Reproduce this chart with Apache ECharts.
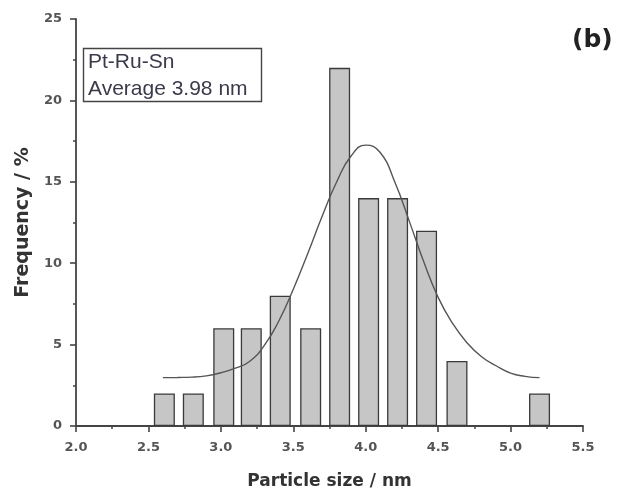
<!DOCTYPE html>
<html><head><meta charset="utf-8">
<script src="https://cdn.jsdelivr.net/npm/echarts@6/dist/echarts.min.js"></script>
<style>html,body{margin:0;padding:0;background:#fff}#c{width:617px;height:488px}</style>
</head><body><div id="c"></div>
<script>
const binCenters = [2.61, 2.81, 3.02, 3.21, 3.41, 3.62, 3.82, 4.02, 4.22, 4.42, 4.63, 5.20];
const frequencies = [2, 2, 6, 6, 8, 6, 22, 14, 14, 12, 4, 2];
const fitX = [2.6, 2.7, 2.8, 2.9, 3.0, 3.1, 3.2, 3.3, 3.4, 3.5, 3.6, 3.7, 3.8, 3.9, 4.0, 4.1, 4.2, 4.3, 4.4, 4.5, 4.6, 4.7, 4.8, 4.9, 5.0, 5.1, 5.2];
const fitY = [2.97, 2.98, 3.0, 3.08, 3.27, 3.55, 3.98, 4.95, 6.45, 8.4, 10.6, 12.9, 15.0, 16.6, 17.25, 16.8, 15.0, 12.6, 10.1, 7.9, 6.3, 5.1, 4.25, 3.7, 3.25, 3.05, 2.97];
const legendLines = ['Pt-Ru-Sn', 'Average 3.98 nm'];
const panelLabel = '(b)';
const xTitle = 'Particle size / nm';
const yTitle = 'Frequency / %';

const chart = echarts.init(document.getElementById('c'), null, {renderer:'canvas'});
const axisCol = '#444';
const lblCol = '#555';
const tickFont = 'DejaVu Sans';
chart.setOption({
  animation:false,
  grid:{left:76, right:34, top:19, bottom:62, containLabel:false, outerBoundsMode:'none'},
  xAxis:{type:'value', min:2.0, max:5.5, interval:0.5,
    name:xTitle, nameLocation:'middle', nameGap:47,
    nameTextStyle:{fontFamily:'DejaVu Sans', fontWeight:'bold', fontSize:17, color:'#333'},
    axisLine:{show:true, lineStyle:{color:axisCol, width:1.8}},
    axisTick:{show:true, inside:false, length:6, lineStyle:{color:axisCol, width:1.6}},
    minorTick:{show:true, splitNumber:2, length:3, lineStyle:{color:axisCol, width:1.5}},
    axisLabel:{fontFamily:tickFont, fontWeight:'bold', fontSize:13, color:lblCol, margin:15,
      formatter:(v)=>v.toFixed(1)},
    splitLine:{show:false}},
  yAxis:{type:'value', min:0, max:25, interval:5,
    name:yTitle, nameLocation:'middle', nameGap:43,
    nameTextStyle:{fontFamily:'DejaVu Sans', fontWeight:'bold', fontSize:19, color:'#333'},
    axisLine:{show:true, lineStyle:{color:axisCol, width:1.8}},
    axisTick:{show:true, inside:false, length:6, lineStyle:{color:axisCol, width:1.6}},
    minorTick:{show:true, splitNumber:2, length:3, lineStyle:{color:axisCol, width:1.5}},
    axisLabel:{fontFamily:tickFont, fontWeight:'bold', fontSize:13, color:lblCol, margin:14},
    splitLine:{show:false}},
  series:[
    {type:'bar', data:binCenters.map((x,i)=>[x, frequencies[i]]), barWidth:21,
     itemStyle:{color:'#c6c6c6', borderColor:'#3a3a3a', borderWidth:1.3}, z:2},
    {type:'line', data:fitX.map((x,i)=>[x, fitY[i]]), smooth:true, showSymbol:false,
     lineStyle:{color:'#555', width:1.4}, z:5}
  ],
  graphic:[
    {type:'rect', shape:{x:83.5, y:48.5, width:178, height:53}, style:{fill:'#fff', stroke:'#444', lineWidth:1.4}, z:10},
    {type:'text', x:88, y:62, style:{text:legendLines[0], font:'21px Liberation Sans, Arial', fill:'#3a3a4a', verticalAlign:'middle'}, z:11},
    {type:'text', x:88, y:89, style:{text:legendLines[1], font:'21px Liberation Sans, Arial', fill:'#3a3a4a', verticalAlign:'middle'}, z:11},
    {type:'text', x:572, y:40, style:{text:panelLabel, font:'bold 25px DejaVu Sans', fill:'#222', verticalAlign:'middle'}, z:11}
  ]
});
</script></body></html>
